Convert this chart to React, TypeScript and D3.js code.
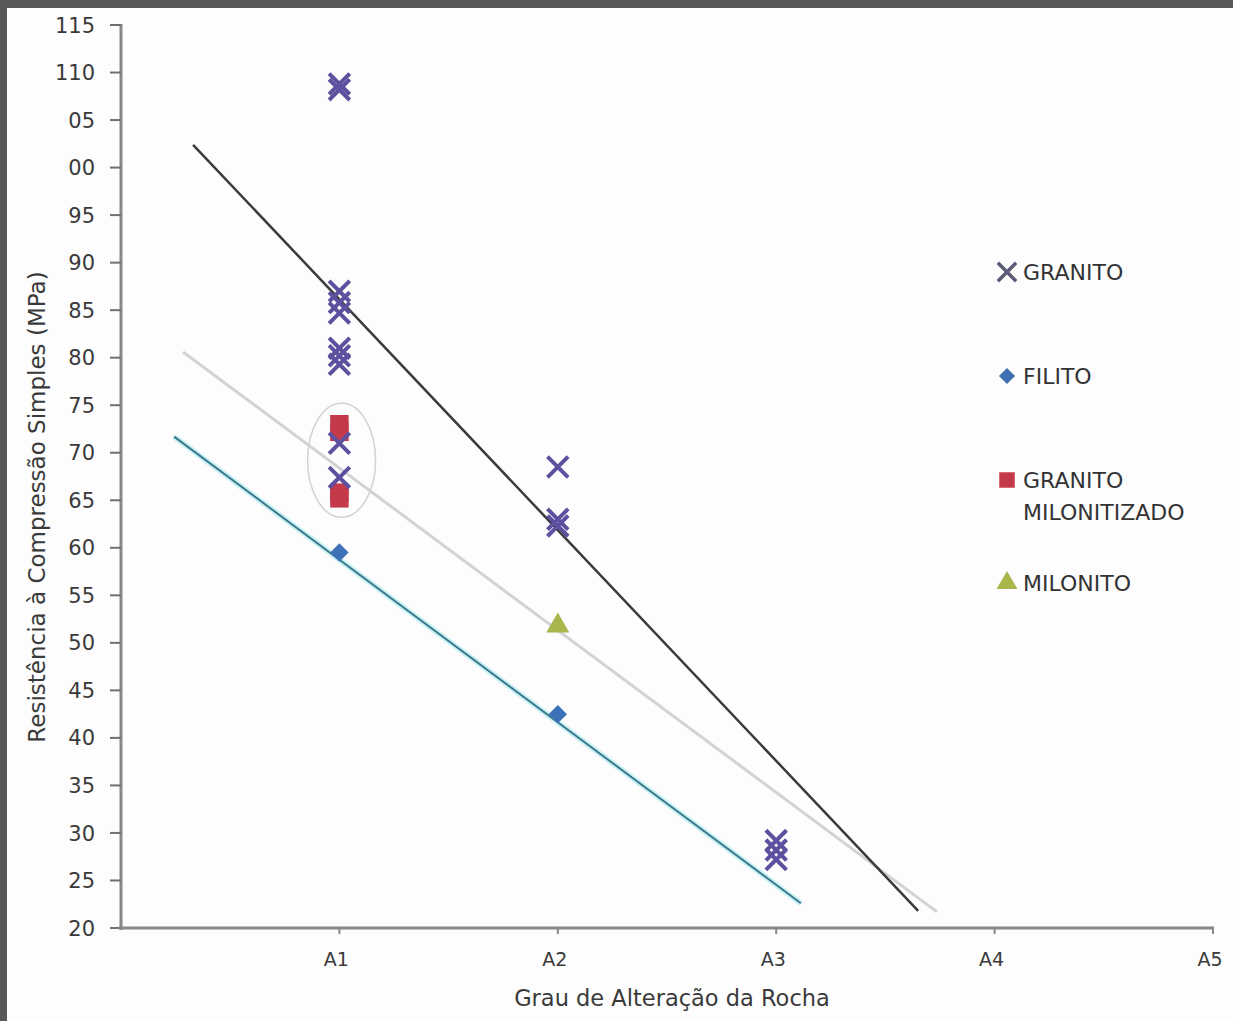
import React, { useEffect, useRef } from 'react';
import * as d3 from 'd3';

// grau de alteração: A1..A5 -> 1..5
const categories = ['A1', 'A2', 'A3', 'A4', 'A5'];
const categoryPos = [1, 2, 3, 4, 5];

const yTickValues = [20, 25, 30, 35, 40, 45, 50, 55, 60, 65, 70, 75, 80, 85, 90, 95, 100, 105, 110, 115];
const yTickLabels = ['20', '25', '30', '35', '40', '45', '50', '55', '60', '65', '70', '75', '80', '85', '90', '95', '00', '05', '110', '115'];

const granito = [
  [1, 108.8], [1, 108.2], [1, 87], [1, 85.8], [1, 84.7], [1, 81], [1, 80.2], [1, 79.3], [1, 71], [1, 67.4],
  [2, 68.5], [2, 63], [2, 62.3],
  [3, 29.2], [3, 28.2], [3, 27.2],
];
const filito = [[1, 59.5], [2, 42.5]];
const granitoMilonitizado = [[1, 73], [1, 72.2], [1, 65.8], [1, 65.2]];
const milonito = [[2, 51.8]];

// linhas de tendência (extremos)
const trendGranito = [[0.33, 102.4], [3.65, 21.8]];
const trendMilonitizado = [[0.284, 80.6], [3.736, 21.7]];
const trendFilito = [[0.243, 71.7], [3.113, 22.6]];

const FONT = '"DejaVu Sans", "Liberation Sans", Arial, sans-serif';

const Chart = ({ width = 1233, height = 1021 }) => {
  const ref = useRef(null);

  useEffect(() => {
    const svg = d3.select(ref.current);
    svg.selectAll('*').remove();
    svg.attr('width', width).attr('height', height);

    // moldura escura (recorte da imagem)
    svg.append('rect').attr('width', width).attr('height', height).attr('fill', '#5a5857');
    svg.append('rect').attr('x', 7).attr('y', 8).attr('width', width - 7).attr('height', height - 8).attr('fill', '#fdfdfd');

    const x = d3.scaleLinear().domain([0, 5]).range([121, 1213]);
    const y = d3.scaleLinear().domain([20, 115]).range([928, 25]);

    const g = svg.append('g');

    // eixo Y
    g.append('line')
      .attr('x1', x(0)).attr('x2', x(0))
      .attr('y1', y(115) - 1).attr('y2', y(20) + 2)
      .attr('stroke', '#878787').attr('stroke-width', 3);
    yTickValues.forEach((v, i) => {
      g.append('line')
        .attr('x1', x(0) - 11).attr('x2', x(0))
        .attr('y1', y(v)).attr('y2', y(v))
        .attr('stroke', '#707070').attr('stroke-width', 2);
      g.append('text')
        .attr('x', 95).attr('y', y(v)).attr('dy', '0.36em')
        .attr('text-anchor', 'end')
        .attr('font-family', FONT).attr('font-size', 21)
        .attr('fill', '#3a3a3a')
        .text(yTickLabels[i]);
    });

    // eixo X
    g.append('line')
      .attr('x1', x(0) - 2).attr('x2', x(5) + 1)
      .attr('y1', y(20)).attr('y2', y(20))
      .attr('stroke', '#878787').attr('stroke-width', 3);
    categories.forEach((c, i) => {
      const px = x(categoryPos[i]);
      g.append('line')
        .attr('x1', px).attr('x2', px)
        .attr('y1', y(20)).attr('y2', y(20) + 6)
        .attr('stroke', '#878787').attr('stroke-width', 2);
      g.append('text')
        .attr('x', px - 3).attr('y', 966)
        .attr('text-anchor', 'middle')
        .attr('font-family', FONT).attr('font-size', 19)
        .attr('fill', '#3a3a3a')
        .text(c);
    });

    // títulos
    g.append('text')
      .attr('x', 672).attr('y', 1006)
      .attr('text-anchor', 'middle')
      .attr('font-family', FONT).attr('font-size', 22.5)
      .attr('fill', '#3a3a3a')
      .text('Grau de Alteração da Rocha');
    g.append('text')
      .attr('transform', 'translate(45,507) rotate(-90)')
      .attr('text-anchor', 'middle')
      .attr('font-family', FONT).attr('font-size', 23)
      .attr('fill', '#3a3a3a')
      .text('Resistência à Compressão Simples (MPa)');

    // linhas de tendência
    const line = d3.line().x(d => x(d[0])).y(d => y(d[1]));
    g.append('path').attr('d', line(trendMilonitizado))
      .attr('stroke', '#d3d3d3').attr('stroke-width', 3).attr('fill', 'none');
    g.append('path').attr('d', line(trendFilito))
      .attr('stroke', '#cdf2f6').attr('stroke-width', 6).attr('fill', 'none');
    g.append('path').attr('d', line(trendFilito))
      .attr('stroke', '#3b7a8c').attr('stroke-width', 2).attr('fill', 'none');
    g.append('path').attr('d', line(trendGranito))
      .attr('stroke', '#3a3a3a').attr('stroke-width', 2.5).attr('fill', 'none');

    // elipse em torno do granito milonitizado
    g.append('ellipse')
      .attr('cx', x(1.01)).attr('cy', y(69.2))
      .attr('rx', 34).attr('ry', 57)
      .attr('fill', 'none').attr('stroke', '#d2d2d2').attr('stroke-width', 1.5);

    const sym = (type, size) => d3.symbol().type(type).size(size)();

    g.selectAll('.sq').data(granitoMilonitizado).enter().append('path')
      .attr('d', sym(d3.symbolSquare, 340))
      .attr('transform', d => `translate(${x(d[0])},${y(d[1])})`)
      .attr('fill', '#c53a4b');

    g.selectAll('.xg').data(granito).enter().append('path')
      .attr('d', sym(d3.symbolX, 280))
      .attr('transform', d => `translate(${x(d[0])},${y(d[1])})`)
      .attr('fill', 'none').attr('stroke', '#5d509e').attr('stroke-width', 4);

    // losango = quadrado girado 45°
    g.selectAll('.df').data(filito).enter().append('path')
      .attr('d', sym(d3.symbolSquare, 170))
      .attr('transform', d => `translate(${x(d[0])},${y(d[1])}) rotate(45)`)
      .attr('fill', '#3e72b8');

    g.selectAll('.tm').data(milonito).enter().append('path')
      .attr('d', sym(d3.symbolTriangle, 230))
      .attr('transform', d => `translate(${x(d[0])},${y(d[1])})`)
      .attr('fill', '#a9b64c');

    // legenda
    const legend = [
      { label: ['GRANITO'], y: 272, type: d3.symbolX, size: 220, fill: 'none', stroke: '#5b5b78', rot: 0 },
      { label: ['FILITO'], y: 376, type: d3.symbolSquare, size: 130, fill: '#3e6fb0', stroke: 'none', rot: 45 },
      { label: ['GRANITO', 'MILONITIZADO'], y: 480, type: d3.symbolSquare, size: 240, fill: '#c53a4b', stroke: 'none', rot: 0 },
      { label: ['MILONITO'], y: 583, type: d3.symbolTriangle, size: 190, fill: '#a9b64c', stroke: 'none', rot: 0 },
    ];
    legend.forEach(l => {
      g.append('path')
        .attr('d', sym(l.type, l.size))
        .attr('transform', `translate(1007,${l.y}) rotate(${l.rot})`)
        .attr('fill', l.fill).attr('stroke', l.stroke).attr('stroke-width', 3.5);
      l.label.forEach((t, i) => {
        g.append('text')
          .attr('x', 1023).attr('y', l.y + 8 + i * 32)
          .attr('font-family', FONT).attr('font-size', 22)
          .attr('fill', '#333')
          .text(t);
      });
    });
  });

  return <svg ref={ref}></svg>;
};

export default function App() {
  return (
    <div style={{ position: 'absolute', top: 0, left: 0 }}>
      <Chart />
    </div>
  );
}
